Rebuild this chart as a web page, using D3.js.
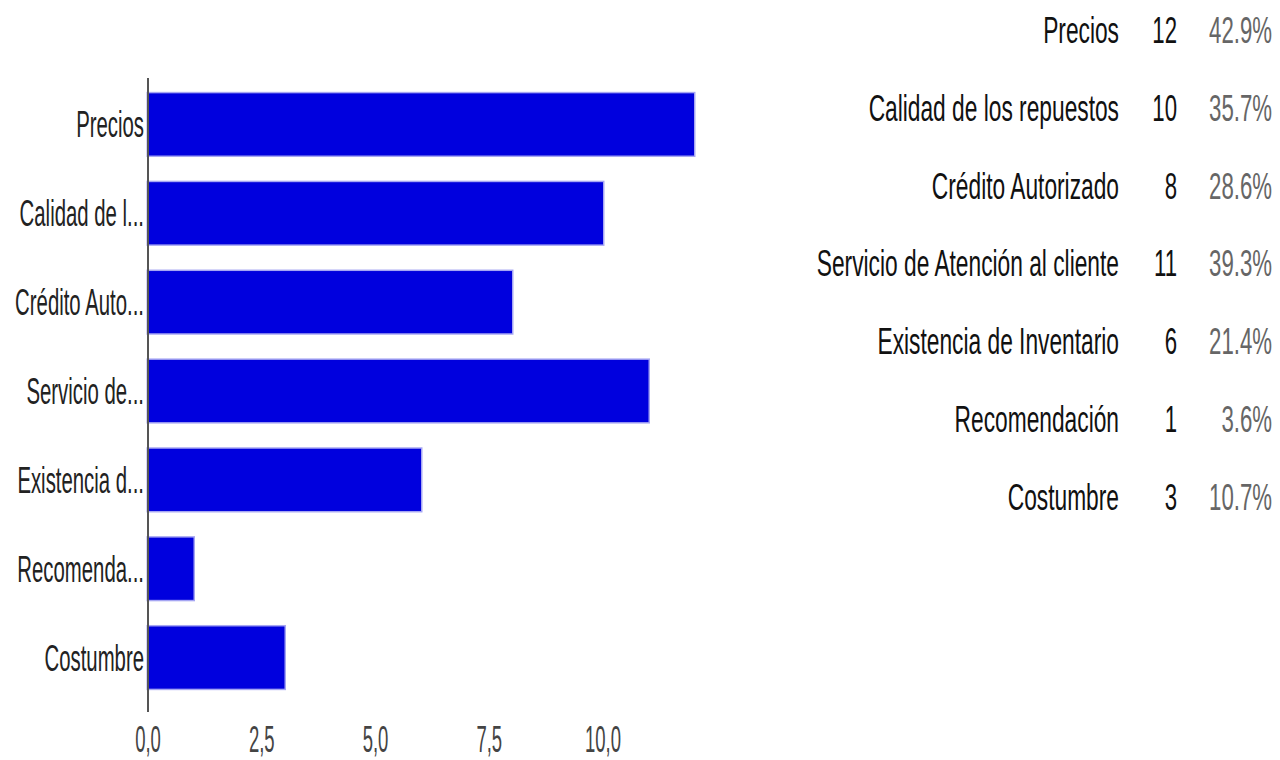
<!DOCTYPE html>
<html>
<head>
<meta charset="utf-8">
<script src="https://cdn.jsdelivr.net/npm/d3@7"></script>
<style>
  html, body { margin: 0; padding: 0; background: #fff; }
  svg { display: block; }
  text { font-family: "Liberation Sans", Arial, sans-serif; }
</style>
</head>
<body>
<svg id="chart" width="1280" height="760"></svg>
<script>
// Survey answers: full option names, truncated axis names, and counts
const categories = [
  "Precios",
  "Calidad de los repuestos",
  "Crédito Autorizado",
  "Servicio de Atención al cliente",
  "Existencia de Inventario",
  "Recomendación",
  "Costumbre"
];
const axisLabels = [
  "Precios",
  "Calidad de l...",
  "Crédito Auto...",
  "Servicio de...",
  "Existencia d...",
  "Recomenda...",
  "Costumbre"
];
const counts = [12, 10, 8, 11, 6, 1, 3];
const respondents = 28;
const tickValues = [0, 2.5, 5, 7.5, 10];

const svg = d3.select("#chart");

const FONT = 37;          // tall, narrow lettering
const axisX = 148;

const x = d3.scaleLinear().domain([0, 10]).range([axisX, 603]);
const y = d3.scaleBand()
  .domain(categories)
  .range([80, 702])
  .paddingInner(0.3)
  .paddingOuter(0.15);

// Bars
svg.append("g")
  .selectAll("rect")
  .data(categories)
  .join("rect")
  .attr("x", axisX)
  .attr("y", d => y(d))
  .attr("width", (d, i) => x(counts[i]) - axisX)
  .attr("height", y.bandwidth())
  .attr("fill", "#0000de")
  .attr("stroke", "rgba(0,0,222,0.35)")
  .attr("stroke-width", 3);

// Vertical axis line
svg.append("line")
  .attr("x1", axisX).attr("x2", axisX)
  .attr("y1", 78).attr("y2", 712)
  .attr("stroke", "#555")
  .attr("stroke-width", 2);

// Category labels, right-aligned against the axis
svg.append("g")
  .selectAll("g")
  .data(categories)
  .join("g")
  .attr("transform", d => `translate(${axisX - 4},${y(d) + y.bandwidth() / 2 + 13}) scale(0.55,1)`)
  .append("text")
  .attr("text-anchor", "end")
  .attr("font-size", FONT)
  .attr("fill", "#222")
  .text((d, i) => axisLabels[i]);

// Value axis tick labels (decimal comma)
const fmtTick = v => d3.format(".1f")(v).replace(".", ",");
svg.append("g")
  .selectAll("g")
  .data(tickValues)
  .join("g")
  .attr("transform", d => `translate(${x(d)},${752}) scale(0.5,1)`)
  .append("text")
  .attr("text-anchor", "middle")
  .attr("font-size", FONT)
  .attr("fill", "#444")
  .text(fmtTick);

// Summary table: option, count, percentage
const rowY = i => 30 + i * 77.8 + 13;
const fmtPct = d3.format(".1f");
const table = svg.append("g")
  .selectAll("g")
  .data(categories)
  .join("g");

table.append("g")
  .attr("transform", (d, i) => `translate(1119,${rowY(i)}) scale(0.615,1)`)
  .append("text")
  .attr("text-anchor", "end")
  .attr("font-size", FONT)
  .attr("fill", "#111")
  .text(d => d);

table.append("g")
  .attr("transform", (d, i) => `translate(1177,${rowY(i)}) scale(0.6,1)`)
  .append("text")
  .attr("text-anchor", "end")
  .attr("font-size", FONT)
  .attr("fill", "#111")
  .text((d, i) => counts[i]);

table.append("g")
  .attr("transform", (d, i) => `translate(1272,${rowY(i)}) scale(0.6,1)`)
  .append("text")
  .attr("text-anchor", "end")
  .attr("font-size", FONT)
  .attr("fill", "#666")
  .text((d, i) => fmtPct(counts[i] / respondents * 100) + "%");
</script>
</body>
</html>
